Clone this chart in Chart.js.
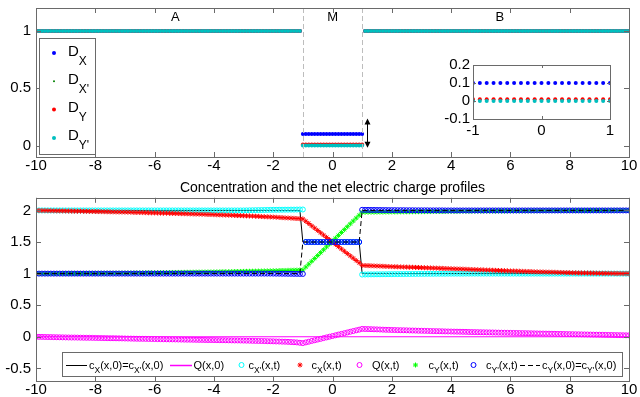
<!DOCTYPE html>
<html>
<head>
<meta charset="utf-8">
<title>Diffusion coefficients and concentration profiles</title>
<script src="https://cdn.jsdelivr.net/npm/chart.js@4.4.1/dist/chart.umd.min.js"></script>
<style>
  html, body { margin: 0; padding: 0; background: #fff; }
  #wrap { position: relative; width: 640px; height: 397px; }
  #wrap canvas { position: absolute; left: 0; top: 0; }
</style>
</head>
<body>
<div id="wrap">
  <canvas id="topChart" width="640" height="397"></canvas>
  <canvas id="bottomChart" width="640" height="397"></canvas>
  <canvas id="insetChart" width="640" height="397"></canvas>
</div>
<script>
// x positions of the samples (step 0.1)
const xGrid = [
  -10, -9.9, -9.8, -9.7, -9.6, -9.5, -9.4, -9.3, -9.2, -9.1,
  -9, -8.9, -8.8, -8.7, -8.6, -8.5, -8.4, -8.3, -8.2, -8.1,
  -8, -7.9, -7.8, -7.7, -7.6, -7.5, -7.4, -7.3, -7.2, -7.1,
  -7, -6.9, -6.8, -6.7, -6.6, -6.5, -6.4, -6.3, -6.2, -6.1,
  -6, -5.9, -5.8, -5.7, -5.6, -5.5, -5.4, -5.3, -5.2, -5.1,
  -5, -4.9, -4.8, -4.7, -4.6, -4.5, -4.4, -4.3, -4.2, -4.1,
  -4, -3.9, -3.8, -3.7, -3.6, -3.5, -3.4, -3.3, -3.2, -3.1,
  -3, -2.9, -2.8, -2.7, -2.6, -2.5, -2.4, -2.3, -2.2, -2.1,
  -2, -1.9, -1.8, -1.7, -1.6, -1.5, -1.4, -1.3, -1.2, -1.1,
  -1, -0.9, -0.8, -0.7, -0.6, -0.5, -0.4, -0.3, -0.2, -0.1,
  0, 0.1, 0.2, 0.3, 0.4, 0.5, 0.6, 0.7, 0.8, 0.9,
  1, 1.1, 1.2, 1.3, 1.4, 1.5, 1.6, 1.7, 1.8, 1.9,
  2, 2.1, 2.2, 2.3, 2.4, 2.5, 2.6, 2.7, 2.8, 2.9,
  3, 3.1, 3.2, 3.3, 3.4, 3.5, 3.6, 3.7, 3.8, 3.9,
  4, 4.1, 4.2, 4.3, 4.4, 4.5, 4.6, 4.7, 4.8, 4.9,
  5, 5.1, 5.2, 5.3, 5.4, 5.5, 5.6, 5.7, 5.8, 5.9,
  6, 6.1, 6.2, 6.3, 6.4, 6.5, 6.6, 6.7, 6.8, 6.9,
  7, 7.1, 7.2, 7.3, 7.4, 7.5, 7.6, 7.7, 7.8, 7.9,
  8, 8.1, 8.2, 8.3, 8.4, 8.5, 8.6, 8.7, 8.8, 8.9,
  9, 9.1, 9.2, 9.3, 9.4, 9.5, 9.6, 9.7, 9.8, 9.9,
  10
];

// diffusion coefficients (top panel)
const dX = [
  1, 1, 1, 1, 1, 1, 1, 1, 1, 1,
  1, 1, 1, 1, 1, 1, 1, 1, 1, 1,
  1, 1, 1, 1, 1, 1, 1, 1, 1, 1,
  1, 1, 1, 1, 1, 1, 1, 1, 1, 1,
  1, 1, 1, 1, 1, 1, 1, 1, 1, 1,
  1, 1, 1, 1, 1, 1, 1, 1, 1, 1,
  1, 1, 1, 1, 1, 1, 1, 1, 1, 1,
  1, 1, 1, 1, 1, 1, 1, 1, 1, 1,
  1, 1, 1, 1, 1, 1, 1, 1, 1, 1,
  0.1, 0.1, 0.1, 0.1, 0.1, 0.1, 0.1, 0.1, 0.1, 0.1,
  0.1, 0.1, 0.1, 0.1, 0.1, 0.1, 0.1, 0.1, 0.1, 0.1,
  0.1, 1, 1, 1, 1, 1, 1, 1, 1, 1,
  1, 1, 1, 1, 1, 1, 1, 1, 1, 1,
  1, 1, 1, 1, 1, 1, 1, 1, 1, 1,
  1, 1, 1, 1, 1, 1, 1, 1, 1, 1,
  1, 1, 1, 1, 1, 1, 1, 1, 1, 1,
  1, 1, 1, 1, 1, 1, 1, 1, 1, 1,
  1, 1, 1, 1, 1, 1, 1, 1, 1, 1,
  1, 1, 1, 1, 1, 1, 1, 1, 1, 1,
  1, 1, 1, 1, 1, 1, 1, 1, 1, 1,
  1
];
const dXp = [
  1, 1, 1, 1, 1, 1, 1, 1, 1, 1,
  1, 1, 1, 1, 1, 1, 1, 1, 1, 1,
  1, 1, 1, 1, 1, 1, 1, 1, 1, 1,
  1, 1, 1, 1, 1, 1, 1, 1, 1, 1,
  1, 1, 1, 1, 1, 1, 1, 1, 1, 1,
  1, 1, 1, 1, 1, 1, 1, 1, 1, 1,
  1, 1, 1, 1, 1, 1, 1, 1, 1, 1,
  1, 1, 1, 1, 1, 1, 1, 1, 1, 1,
  1, 1, 1, 1, 1, 1, 1, 1, 1, 1,
  0.01, 0.01, 0.01, 0.01, 0.01, 0.01, 0.01, 0.01, 0.01, 0.01,
  0.01, 0.01, 0.01, 0.01, 0.01, 0.01, 0.01, 0.01, 0.01, 0.01,
  0.01, 1, 1, 1, 1, 1, 1, 1, 1, 1,
  1, 1, 1, 1, 1, 1, 1, 1, 1, 1,
  1, 1, 1, 1, 1, 1, 1, 1, 1, 1,
  1, 1, 1, 1, 1, 1, 1, 1, 1, 1,
  1, 1, 1, 1, 1, 1, 1, 1, 1, 1,
  1, 1, 1, 1, 1, 1, 1, 1, 1, 1,
  1, 1, 1, 1, 1, 1, 1, 1, 1, 1,
  1, 1, 1, 1, 1, 1, 1, 1, 1, 1,
  1, 1, 1, 1, 1, 1, 1, 1, 1, 1,
  1
];
const dY = [
  1, 1, 1, 1, 1, 1, 1, 1, 1, 1,
  1, 1, 1, 1, 1, 1, 1, 1, 1, 1,
  1, 1, 1, 1, 1, 1, 1, 1, 1, 1,
  1, 1, 1, 1, 1, 1, 1, 1, 1, 1,
  1, 1, 1, 1, 1, 1, 1, 1, 1, 1,
  1, 1, 1, 1, 1, 1, 1, 1, 1, 1,
  1, 1, 1, 1, 1, 1, 1, 1, 1, 1,
  1, 1, 1, 1, 1, 1, 1, 1, 1, 1,
  1, 1, 1, 1, 1, 1, 1, 1, 1, 1,
  0.01, 0.01, 0.01, 0.01, 0.01, 0.01, 0.01, 0.01, 0.01, 0.01,
  0.01, 0.01, 0.01, 0.01, 0.01, 0.01, 0.01, 0.01, 0.01, 0.01,
  0.01, 1, 1, 1, 1, 1, 1, 1, 1, 1,
  1, 1, 1, 1, 1, 1, 1, 1, 1, 1,
  1, 1, 1, 1, 1, 1, 1, 1, 1, 1,
  1, 1, 1, 1, 1, 1, 1, 1, 1, 1,
  1, 1, 1, 1, 1, 1, 1, 1, 1, 1,
  1, 1, 1, 1, 1, 1, 1, 1, 1, 1,
  1, 1, 1, 1, 1, 1, 1, 1, 1, 1,
  1, 1, 1, 1, 1, 1, 1, 1, 1, 1,
  1, 1, 1, 1, 1, 1, 1, 1, 1, 1,
  1
];
const dYp = [
  1, 1, 1, 1, 1, 1, 1, 1, 1, 1,
  1, 1, 1, 1, 1, 1, 1, 1, 1, 1,
  1, 1, 1, 1, 1, 1, 1, 1, 1, 1,
  1, 1, 1, 1, 1, 1, 1, 1, 1, 1,
  1, 1, 1, 1, 1, 1, 1, 1, 1, 1,
  1, 1, 1, 1, 1, 1, 1, 1, 1, 1,
  1, 1, 1, 1, 1, 1, 1, 1, 1, 1,
  1, 1, 1, 1, 1, 1, 1, 1, 1, 1,
  1, 1, 1, 1, 1, 1, 1, 1, 1, 1,
  0, 0, 0, 0, 0, 0, 0, 0, 0, 0,
  0, 0, 0, 0, 0, 0, 0, 0, 0, 0,
  0, 1, 1, 1, 1, 1, 1, 1, 1, 1,
  1, 1, 1, 1, 1, 1, 1, 1, 1, 1,
  1, 1, 1, 1, 1, 1, 1, 1, 1, 1,
  1, 1, 1, 1, 1, 1, 1, 1, 1, 1,
  1, 1, 1, 1, 1, 1, 1, 1, 1, 1,
  1, 1, 1, 1, 1, 1, 1, 1, 1, 1,
  1, 1, 1, 1, 1, 1, 1, 1, 1, 1,
  1, 1, 1, 1, 1, 1, 1, 1, 1, 1,
  1, 1, 1, 1, 1, 1, 1, 1, 1, 1,
  1
];

// concentrations and charge at time t (bottom panel)
const cXt = [
  2.000, 1.999, 1.998, 1.998, 1.997, 1.996, 1.995, 1.994, 1.994, 1.993,
  1.992, 1.991, 1.990, 1.989, 1.988, 1.988, 1.987, 1.986, 1.985, 1.984,
  1.983, 1.982, 1.981, 1.980, 1.979, 1.978, 1.977, 1.976, 1.975, 1.974,
  1.973, 1.972, 1.971, 1.969, 1.968, 1.967, 1.966, 1.965, 1.963, 1.962,
  1.961, 1.960, 1.958, 1.957, 1.956, 1.955, 1.953, 1.952, 1.951, 1.949,
  1.948, 1.947, 1.945, 1.944, 1.942, 1.941, 1.939, 1.938, 1.936, 1.935,
  1.933, 1.931, 1.930, 1.928, 1.926, 1.925, 1.923, 1.921, 1.919, 1.918,
  1.916, 1.914, 1.912, 1.910, 1.908, 1.906, 1.903, 1.901, 1.899, 1.897,
  1.895, 1.892, 1.889, 1.886, 1.883, 1.881, 1.878, 1.875, 1.872, 1.869,
  1.866, 1.829, 1.793, 1.756, 1.720, 1.683, 1.646, 1.610, 1.573, 1.537,
  1.500, 1.463, 1.427, 1.390, 1.354, 1.317, 1.280, 1.244, 1.207, 1.171,
  1.130, 1.128, 1.126, 1.124, 1.122, 1.120, 1.118, 1.116, 1.114, 1.112,
  1.110, 1.109, 1.107, 1.106, 1.104, 1.103, 1.101, 1.100, 1.098, 1.097,
  1.095, 1.093, 1.092, 1.090, 1.088, 1.087, 1.085, 1.083, 1.081, 1.080,
  1.078, 1.076, 1.074, 1.073, 1.071, 1.069, 1.067, 1.065, 1.064, 1.062,
  1.060, 1.058, 1.056, 1.055, 1.053, 1.051, 1.049, 1.047, 1.046, 1.044,
  1.042, 1.041, 1.039, 1.038, 1.036, 1.035, 1.033, 1.032, 1.030, 1.029,
  1.027, 1.026, 1.024, 1.023, 1.022, 1.021, 1.019, 1.018, 1.017, 1.015,
  1.014, 1.013, 1.012, 1.011, 1.010, 1.010, 1.009, 1.008, 1.007, 1.006,
  1.005, 1.005, 1.004, 1.004, 1.003, 1.003, 1.002, 1.002, 1.001, 1.001,
  1.000
];
const cYt = [
  1.000, 1.000, 1.000, 1.001, 1.001, 1.001, 1.001, 1.001, 1.002, 1.002,
  1.002, 1.002, 1.003, 1.003, 1.003, 1.004, 1.004, 1.004, 1.005, 1.005,
  1.005, 1.005, 1.006, 1.006, 1.007, 1.007, 1.007, 1.008, 1.008, 1.009,
  1.009, 1.010, 1.010, 1.011, 1.011, 1.012, 1.012, 1.013, 1.013, 1.014,
  1.014, 1.015, 1.015, 1.016, 1.016, 1.017, 1.018, 1.018, 1.019, 1.019,
  1.020, 1.021, 1.021, 1.022, 1.023, 1.024, 1.024, 1.025, 1.026, 1.026,
  1.027, 1.028, 1.029, 1.029, 1.030, 1.031, 1.032, 1.033, 1.033, 1.034,
  1.035, 1.036, 1.037, 1.038, 1.039, 1.040, 1.041, 1.042, 1.043, 1.044,
  1.045, 1.046, 1.048, 1.049, 1.050, 1.052, 1.053, 1.054, 1.055, 1.057,
  1.058, 1.104, 1.149, 1.195, 1.240, 1.286, 1.332, 1.377, 1.423, 1.468,
  1.514, 1.560, 1.605, 1.651, 1.696, 1.742, 1.788, 1.833, 1.879, 1.924,
  1.970, 1.971, 1.971, 1.972, 1.972, 1.973, 1.974, 1.974, 1.975, 1.975,
  1.976, 1.976, 1.977, 1.977, 1.978, 1.978, 1.979, 1.979, 1.980, 1.980,
  1.981, 1.981, 1.982, 1.982, 1.983, 1.983, 1.983, 1.984, 1.984, 1.985,
  1.985, 1.985, 1.986, 1.986, 1.987, 1.987, 1.987, 1.988, 1.988, 1.989,
  1.989, 1.989, 1.990, 1.990, 1.990, 1.990, 1.991, 1.991, 1.991, 1.992,
  1.992, 1.992, 1.993, 1.993, 1.993, 1.993, 1.994, 1.994, 1.994, 1.995,
  1.995, 1.995, 1.995, 1.996, 1.996, 1.996, 1.996, 1.996, 1.997, 1.997,
  1.997, 1.997, 1.997, 1.998, 1.998, 1.998, 1.998, 1.998, 1.999, 1.999,
  1.999, 1.999, 1.999, 1.999, 1.999, 2.000, 2.000, 2.000, 2.000, 2.000,
  2.000
];
const cXpt = [
  2, 2, 2, 2, 2, 2, 2, 2, 2, 2,
  2, 2, 2, 2, 2, 2, 2, 2, 2, 2,
  2, 2, 2, 2, 2, 2, 2, 2, 2, 2,
  2, 2, 2, 2, 2, 2, 2, 2, 2, 2,
  2, 2, 2, 2, 2, 2, 2, 2, 2, 2,
  2, 2, 2, 2, 2, 2, 2, 2, 2, 2,
  2, 2, 2, 2, 2, 2, 2, 2, 2, 2,
  2.000, 2.001, 2.002, 2.003, 2.004, 2.005, 2.006, 2.007, 2.008, 2.009,
  2.010, 2.010, 2.011, 2.011, 2.012, 2.012, 2.013, 2.013, 2.014, 2.015,
  2.015, 1.5, 1.5, 1.5, 1.5, 1.5, 1.5, 1.5, 1.5, 1.5,
  1.5, 1.5, 1.5, 1.5, 1.5, 1.5, 1.5, 1.5, 1.5, 1.5,
  0.985, 0.986, 0.987, 0.988, 0.988, 0.989, 0.989, 0.990, 0.990, 0.991,
  0.991, 0.992, 0.992, 0.993, 0.993, 0.994, 0.994, 0.995, 0.995, 0.996,
  0.996, 0.996, 0.997, 0.997, 0.997, 0.998, 0.998, 0.998, 0.998, 0.999,
  0.999, 0.999, 0.999, 0.999, 0.999, 1, 1, 1, 1, 1,
  1, 1, 1, 1, 1, 1, 1, 1, 1, 1,
  1, 1, 1, 1, 1, 1, 1, 1, 1, 1,
  1, 1, 1, 1, 1, 1, 1, 1, 1, 1,
  1, 1, 1, 1, 1, 1, 1, 1, 1, 1,
  1, 1, 1, 1, 1, 1, 1, 1, 1, 1,
  1
];
const cYpt = [
  1, 1, 1, 1, 1, 1, 1, 1, 1, 1,
  1, 1, 1, 1, 1, 1, 1, 1, 1, 1,
  1, 1, 1, 1, 1, 1, 1, 1, 1, 1,
  1, 1, 1, 1, 1, 1, 1, 1, 1, 1,
  1, 1, 1, 1, 1, 1, 1, 1, 1, 1,
  1, 1, 1, 1, 1, 1, 1, 1, 1, 1,
  1, 1, 1, 1, 1, 1, 1, 1, 1, 1,
  1, 1, 1, 1, 1, 1, 1, 1, 1, 1,
  1.000, 0.999, 0.999, 0.998, 0.998, 0.997, 0.997, 0.996, 0.996, 0.995,
  0.995, 1.5, 1.5, 1.5, 1.5, 1.5, 1.5, 1.5, 1.5, 1.5,
  1.5, 1.5, 1.5, 1.5, 1.5, 1.5, 1.5, 1.5, 1.5, 1.5,
  2.010, 2.009, 2.009, 2.008, 2.008, 2.007, 2.007, 2.006, 2.006, 2.005,
  2.005, 2.005, 2.004, 2.004, 2.004, 2.003, 2.003, 2.003, 2.002, 2.002,
  2.002, 2.002, 2.002, 2.001, 2.001, 2.001, 2.001, 2.001, 2, 2,
  2, 2, 2, 2, 2, 2, 2, 2, 2, 2,
  2, 2, 2, 2, 2, 2, 2, 2, 2, 2,
  2, 2, 2, 2, 2, 2, 2, 2, 2, 2,
  2, 2, 2, 2, 2, 2, 2, 2, 2, 2,
  2, 2, 2, 2, 2, 2, 2, 2, 2, 2,
  2, 2, 2, 2, 2, 2, 2, 2, 2, 2,
  2
];
const qT = [
  0.000, -0.001, -0.002, -0.003, -0.004, -0.005, -0.006, -0.007, -0.008, -0.009,
  -0.010, -0.011, -0.012, -0.012, -0.013, -0.014, -0.015, -0.016, -0.016, -0.017,
  -0.018, -0.019, -0.020, -0.021, -0.022, -0.023, -0.023, -0.024, -0.025, -0.026,
  -0.027, -0.028, -0.029, -0.030, -0.031, -0.032, -0.032, -0.033, -0.034, -0.035,
  -0.036, -0.037, -0.038, -0.039, -0.040, -0.041, -0.041, -0.042, -0.043, -0.044,
  -0.045, -0.046, -0.046, -0.047, -0.048, -0.049, -0.049, -0.050, -0.051, -0.051,
  -0.052, -0.053, -0.054, -0.054, -0.055, -0.056, -0.057, -0.058, -0.058, -0.059,
  -0.060, -0.061, -0.062, -0.064, -0.065, -0.066, -0.067, -0.068, -0.070, -0.071,
  -0.072, -0.074, -0.075, -0.077, -0.078, -0.080, -0.083, -0.086, -0.089, -0.095,
  -0.100, -0.089, -0.078, -0.066, -0.055, -0.044, -0.033, -0.021, -0.010, 0.001,
  0.012, 0.023, 0.035, 0.046, 0.057, 0.068, 0.080, 0.091, 0.102, 0.113,
  0.125, 0.123, 0.122, 0.120, 0.118, 0.117, 0.115, 0.113, 0.111, 0.110,
  0.108, 0.107, 0.105, 0.104, 0.103, 0.102, 0.100, 0.099, 0.098, 0.096,
  0.095, 0.094, 0.093, 0.091, 0.090, 0.089, 0.088, 0.087, 0.085, 0.084,
  0.083, 0.082, 0.081, 0.080, 0.079, 0.078, 0.076, 0.075, 0.074, 0.073,
  0.072, 0.071, 0.070, 0.069, 0.068, 0.067, 0.066, 0.065, 0.064, 0.063,
  0.062, 0.061, 0.060, 0.059, 0.058, 0.057, 0.056, 0.055, 0.054, 0.053,
  0.052, 0.051, 0.050, 0.049, 0.048, 0.047, 0.046, 0.045, 0.044, 0.043,
  0.042, 0.041, 0.040, 0.039, 0.038, 0.037, 0.036, 0.035, 0.034, 0.033,
  0.032, 0.031, 0.030, 0.029, 0.028, 0.027, 0.026, 0.025, 0.024, 0.023,
  0.022
];

// initial profiles (lines)
const initX = [-10, -1.1, -1, 0.9, 1, 10];
const cX0 = [2, 2, 1.5, 1.5, 1, 1];
const cY0 = [1, 1, 1.5, 1.5, 2, 2];
const q0X = [-10, 10];
const q0 = [0, 0];

// ticks
const xTicks = [-10, -8, -6, -4, -2, 0, 2, 4, 6, 8, 10];
const topYTicks = [0, 0.5, 1];
const bottomYTicks = [-0.5, 0, 0.5, 1, 1.5, 2];
const insetXTicks = [-1, 0, 1];
const insetYTicks = [-0.1, 0, 0.1, 0.2];

// texts
const regionNames = ['A', 'M', 'B'];
const regionX = [-5.45, -0.18, 5.5];
const regionY = 1.09;
const membraneEdges = [-1, 1];
const arrowX = 1.15;
const arrowY = [0.235, -0.02];
const topLegendBase = 'D';
const topLegendSubs = ['X', "X'", 'Y', "Y'"];
const bottomTitle = 'Concentration and the net electric charge profiles';
const bottomLabels = [
  [['c', 0], ['X', 1], ['(x,0)=c', 0], ["X'", 1], ['(x,0)', 0]],
  [['Q(x,0)', 0]],
  [['c', 0], ["X'", 1], ['(x,t)', 0]],
  [['c', 0], ['X', 1], ['(x,t)', 0]],
  [['Q(x,t)', 0]],
  [['c', 0], ['Y', 1], ['(x,t)', 0]],
  [['c', 0], ["Y'", 1], ['(x,t)', 0]],
  [['c', 0], ['Y', 1], ['(x,0)=c', 0], ["Y'", 1], ['(x,0)', 0]]
];

const FONT = '"Liberation Sans", Arial, Helvetica, sans-serif';
const AXIS = '#6a6a6a';

const pts = arr => xGrid.map((x, i) => ({ x: x, y: arr[i] }));
const pairs = (xs, ys) => xs.map((x, i) => ({ x: x, y: ys[i] }));

function axis(min, max, ticks, size, pad) {
  return {
    type: 'linear', min: min, max: max,
    afterBuildTicks: s => { s.ticks = ticks.map(v => ({ value: v })); },
    afterFit: s => {
      if (s.isHorizontal()) s.height = size; else s.width = size;
      s.paddingTop = s.paddingBottom = s.paddingLeft = s.paddingRight = 0;
    },
    grid: { display: false, drawTicks: false },
    border: { display: false },
    ticks: {
      autoSkip: false, maxRotation: 0, padding: pad, color: '#000',
      font: { family: FONT, size: 15 },
      callback: v => String(v)
    }
  };
}

// matlab style box with inward ticks
const boxAxes = {
  id: 'boxAxes',
  afterDatasetsDraw(chart, args, opts) {
    const ctx = chart.ctx, a = chart.chartArea;
    const x = chart.scales.x, y = chart.scales.y;
    const len = opts.len || 5;
    ctx.save();
    ctx.strokeStyle = AXIS;
    ctx.lineWidth = 1;
    ctx.beginPath();
    x.ticks.forEach(t => {
      const p = Math.round(x.getPixelForValue(t.value)) + 0.5;
      ctx.moveTo(p, a.bottom); ctx.lineTo(p, a.bottom - len);
      ctx.moveTo(p, a.top); ctx.lineTo(p, a.top + len);
    });
    y.ticks.forEach(t => {
      const p = Math.round(y.getPixelForValue(t.value)) + 0.5;
      ctx.moveTo(a.left, p); ctx.lineTo(a.left + len, p);
      ctx.moveTo(a.right, p); ctx.lineTo(a.right - len, p);
    });
    ctx.stroke();
    ctx.strokeRect(Math.round(a.left) + 0.5, Math.round(a.top) + 0.5,
      Math.round(a.right - a.left), Math.round(a.bottom - a.top));
    ctx.restore();
  }
};

const whiteBack = {
  id: 'whiteBack',
  beforeDatasetsDraw(chart) {
    const a = chart.chartArea;
    chart.ctx.save();
    chart.ctx.fillStyle = '#fff';
    chart.ctx.fillRect(a.left, a.top, a.right - a.left, a.bottom - a.top);
    chart.ctx.restore();
  }
};

function richText(ctx, parts, x, y, size, subSize, subDy) {
  parts.forEach(p => {
    ctx.font = (p[1] ? subSize : size) + 'px ' + FONT;
    ctx.fillText(p[0], x, y + (p[1] ? subDy : 0));
    x += ctx.measureText(p[0]).width;
  });
}

// region marks, membrane edges and the arrow
const topMarks = {
  id: 'topMarks',
  afterDatasetsDraw(chart) {
    const ctx = chart.ctx, a = chart.chartArea;
    const x = chart.scales.x, y = chart.scales.y;
    ctx.save();
    ctx.strokeStyle = '#bdbdbd';
    ctx.lineWidth = 1;
    ctx.setLineDash([5, 3]);
    membraneEdges.forEach(v => {
      const p = Math.round(x.getPixelForValue(v)) + 0.5;
      ctx.beginPath(); ctx.moveTo(p, a.top); ctx.lineTo(p, a.bottom); ctx.stroke();
    });
    ctx.setLineDash([]);
    ctx.fillStyle = '#000';
    ctx.font = '13px ' + FONT;
    regionNames.forEach((n, i) => ctx.fillText(n, x.getPixelForValue(regionX[i]), y.getPixelForValue(regionY)));
    const ax = Math.round(x.getPixelForValue(arrowX)) + 0.5;
    const y1 = y.getPixelForValue(arrowY[0]), y2 = y.getPixelForValue(arrowY[1]);
    ctx.strokeStyle = '#000';
    ctx.beginPath(); ctx.moveTo(ax, y1 + 3); ctx.lineTo(ax, y2 - 3); ctx.stroke();
    ctx.beginPath();
    ctx.moveTo(ax, y1); ctx.lineTo(ax - 3, y1 + 6); ctx.lineTo(ax + 3, y1 + 6); ctx.closePath();
    ctx.moveTo(ax, y2); ctx.lineTo(ax - 3, y2 - 6); ctx.lineTo(ax + 3, y2 - 6); ctx.closePath();
    ctx.fill();
    ctx.restore();
  }
};

const topLegend = {
  id: 'topLegend',
  afterDraw(chart) {
    const ctx = chart.ctx;
    ctx.save();
    ctx.fillStyle = '#fff';
    ctx.fillRect(39.5, 38.5, 56, 116);
    ctx.strokeStyle = AXIS;
    ctx.lineWidth = 1;
    ctx.strokeRect(39.5, 38.5, 56, 116);
    chart.data.datasets.forEach((ds, i) => {
      const my = 53 + i * 28.3;
      ctx.fillStyle = ds.pointBackgroundColor;
      Chart.helpers.drawPoint(ctx, { pointStyle: 'circle', radius: ds.pointRadius, borderWidth: 0, rotation: 0 }, 54, my);
      ctx.fillStyle = '#000';
      richText(ctx, [[topLegendBase, 0], [topLegendSubs[i], 1]], 68, my + 2.5, 15, 12, 9);
    });
    ctx.restore();
  }
};

const slots = [
  { line: [66, 87], tx: 89 },
  { line: [170, 192], tx: 193.5 },
  { px: 241.5, tx: 248.5 },
  { px: 300, tx: 311.5 },
  { px: 359.5, tx: 372 },
  { px: 415.5, tx: 428.5 },
  { px: 473.5, tx: 486 },
  { line: [520, 540], tx: 542 }
];

const bottomLegend = {
  id: 'bottomLegend',
  afterDraw(chart) {
    const ctx = chart.ctx, ly = 365;
    ctx.save();
    ctx.fillStyle = '#fff';
    ctx.fillRect(62.5, 352.5, 560, 24);
    ctx.strokeStyle = AXIS;
    ctx.lineWidth = 1;
    ctx.strokeRect(62.5, 352.5, 560, 24);
    chart.data.datasets.forEach((ds, i) => {
      const s = slots[i];
      if (s.line) {
        ctx.strokeStyle = ds.borderColor;
        ctx.lineWidth = ds.legendWidth || 1;
        ctx.setLineDash(ds.borderDash || []);
        ctx.beginPath(); ctx.moveTo(s.line[0], ly + 0.5); ctx.lineTo(s.line[1], ly + 0.5); ctx.stroke();
        ctx.setLineDash([]);
      } else {
        ctx.strokeStyle = ds.pointBorderColor;
        ctx.fillStyle = ds.pointBackgroundColor;
        ctx.lineWidth = ds.pointBorderWidth;
        Chart.helpers.drawPoint(ctx, { pointStyle: ds.pointStyle, radius: ds.pointRadius, borderWidth: ds.pointBorderWidth, rotation: 0 }, s.px, ly);
      }
      ctx.fillStyle = '#000';
      richText(ctx, bottomLabels[i], s.tx, ly + 4, 11, 8.5, 3.5);
    });
    ctx.restore();
  }
};

const base = {
  responsive: false, animation: false, events: [],
  plugins: { legend: { display: false }, tooltip: { enabled: false } }
};

function dots(arr, color, r, order) {
  return { data: pts(arr), pointStyle: 'circle', pointRadius: r, pointBorderWidth: 0,
    pointBackgroundColor: color, pointBorderColor: color, showLine: false, order: order };
}

// top panel
new Chart(document.getElementById('topChart'), {
  type: 'scatter',
  data: { datasets: [
    dots(dX, '#0000ff', 2, 3),
    dots(dXp, '#008000', 1, 2),
    dots(dY, '#ff0000', 2, 1),
    dots(dYp, '#00bfbf', 2, 0)
  ] },
  options: Object.assign({}, base, {
    layout: { autoPadding: false, padding: { left: 0, right: 11, top: 8, bottom: 210 } },
    plugins: Object.assign({}, base.plugins, { boxAxes: { len: 5 } }),
    scales: { x: axis(-10, 10, xTicks, 30, 0), y: axis(-0.1, 1.2, topYTicks, 36, 5) }
  }),
  plugins: [topMarks, boxAxes, topLegend]
});

// inset
new Chart(document.getElementById('insetChart'), {
  type: 'scatter',
  data: { datasets: [
    dots(dX, '#0000ff', 2, 3),
    dots(dXp, '#008000', 1, 2),
    dots(dY, '#ff0000', 2, 1),
    dots(dYp, '#00bfbf', 2, 0)
  ] },
  options: Object.assign({}, base, {
    layout: { autoPadding: false, padding: { left: 0, right: 30, top: 65, bottom: 258 } },
    plugins: Object.assign({}, base.plugins, { boxAxes: { len: 3 } }),
    scales: { x: axis(-1, 1, insetXTicks, 20, 3), y: axis(-0.1, 0.2, insetYTicks, 473, 3) }
  }),
  plugins: [whiteBack, boxAxes]
});

// bottom panel
const clear = 'rgba(0,0,0,0)';
new Chart(document.getElementById('bottomChart'), {
  type: 'scatter',
  data: { datasets: [
    { data: pairs(initX, cX0), showLine: true, borderColor: '#000', borderWidth: 1, pointRadius: 0, order: 7 },
    { data: pairs(q0X, q0), showLine: true, borderColor: '#ff00ff', borderWidth: 1, legendWidth: 1.5, pointRadius: 0, order: 6 },
    { data: pts(cXpt), showLine: false, pointStyle: 'circle', pointRadius: 2.5, pointBorderWidth: 1,
      pointBorderColor: '#00ffff', pointBackgroundColor: clear, order: 5 },
    { data: pts(cXt), showLine: false, pointStyle: 'star', pointRadius: 2.5, pointBorderWidth: 1,
      pointBorderColor: '#ff0000', pointBackgroundColor: clear, order: 4 },
    { data: pts(qT), showLine: false, pointStyle: 'circle', pointRadius: 2.5, pointBorderWidth: 1,
      pointBorderColor: '#ff00ff', pointBackgroundColor: clear, order: 3 },
    { data: pts(cYt), showLine: false, pointStyle: 'star', pointRadius: 2.5, pointBorderWidth: 1,
      pointBorderColor: '#00ff00', pointBackgroundColor: clear, order: 2 },
    { data: pts(cYpt), showLine: false, pointStyle: 'circle', pointRadius: 2.5, pointBorderWidth: 1,
      pointBorderColor: '#0000ff', pointBackgroundColor: clear, order: 1 },
    { data: pairs(initX, cY0), showLine: true, borderColor: '#000', borderWidth: 1, borderDash: [5, 3], pointRadius: 0, order: 0 }
  ] },
  options: Object.assign({}, base, {
    layout: { autoPadding: false, padding: { left: 0, right: 11, top: 180, bottom: 0 } },
    plugins: Object.assign({}, base.plugins, {
      boxAxes: { len: 5 },
      title: { display: true, text: bottomTitle, fullSize: false, color: '#000',
        font: { family: FONT, size: 14, weight: 'normal' }, padding: { top: 0, bottom: 1 } }
    }),
    scales: { x: axis(-10, 10, xTicks, 16, 0), y: axis(-0.7, 2.2, bottomYTicks, 36, 5) }
  }),
  plugins: [boxAxes, bottomLegend]
});
</script>
</body>
</html>
